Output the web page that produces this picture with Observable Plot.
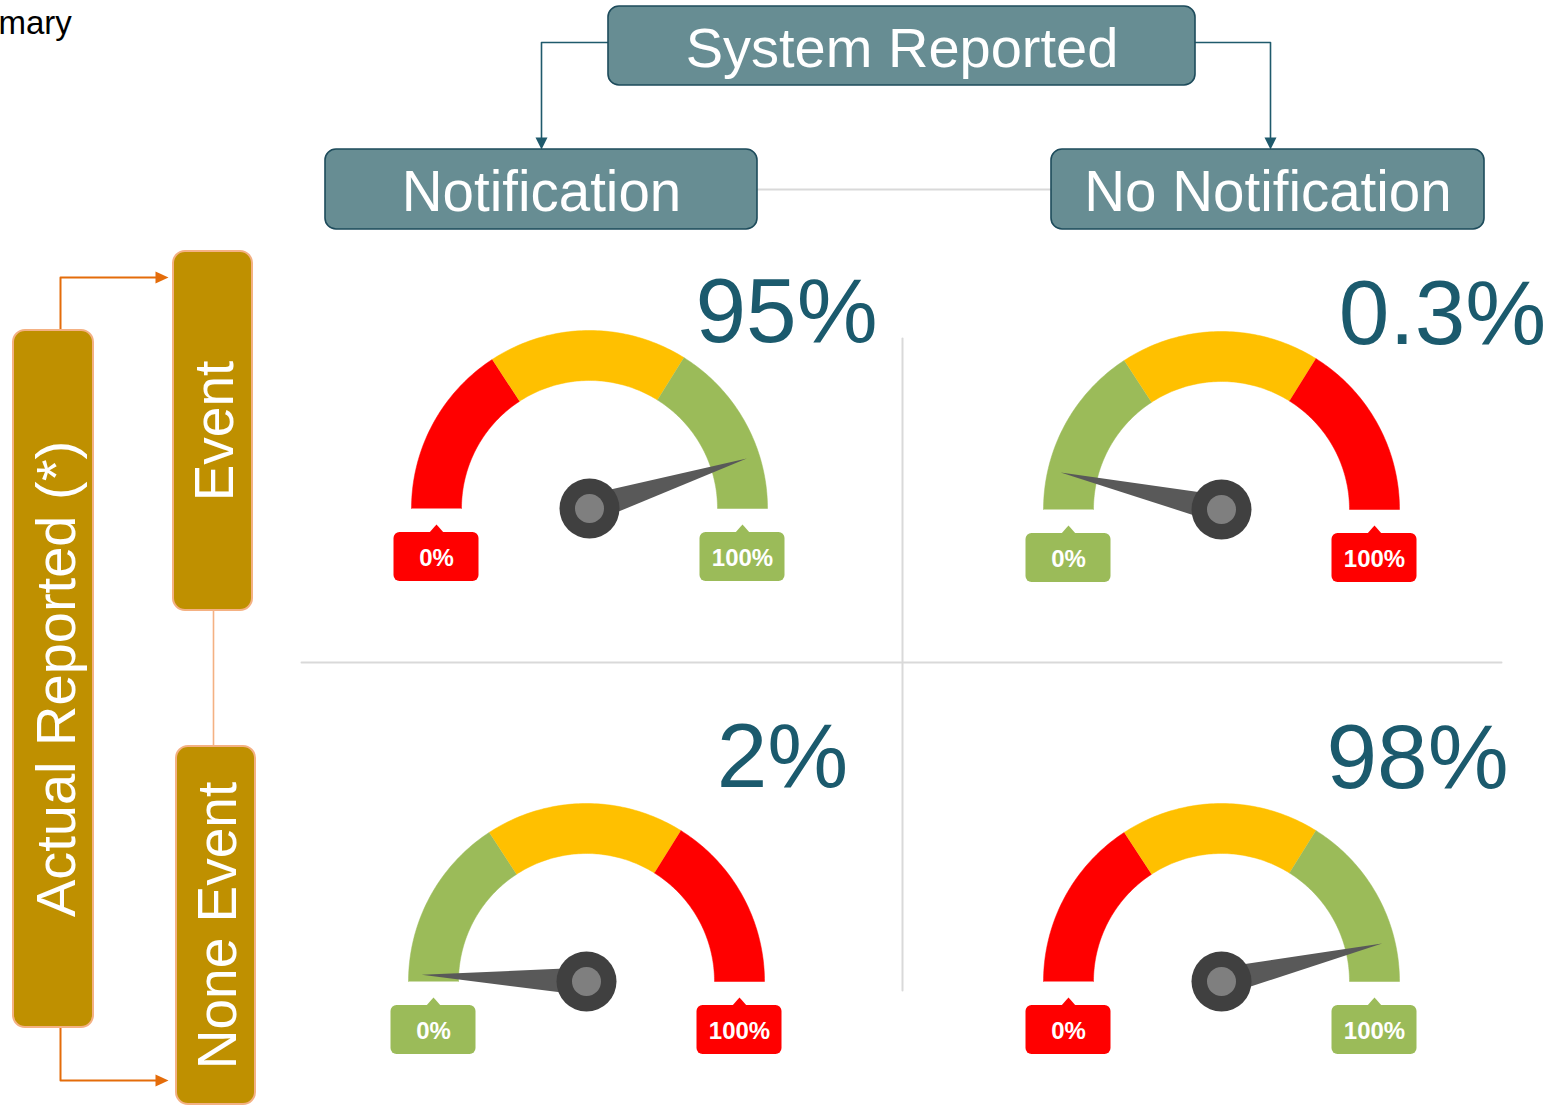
<!DOCTYPE html>
<html>
<head>
<meta charset="utf-8">
<script src="https://cdn.jsdelivr.net/npm/d3@7"></script>
<script src="https://cdn.jsdelivr.net/npm/@observablehq/plot@0.6"></script>
<style>
  html, body { margin: 0; padding: 0; background: #ffffff; }
  #chart { width: 1556px; height: 1106px; }
</style>
</head>
<body>
<div id="chart"></div>
<script>
// ---------------- DATA ----------------
const cornerText = ["mary"];
const headerTitle = ["System Reported"];
const systemCategories = ["Notification", "No Notification"];
const sideTitle = ["Actual Reported (*)"];
const actualCategories = ["Event", "None Event"];
// row-major: [Event×Notification, Event×No Notification, None Event×Notification, None Event×No Notification]
const rates = [95, 0.3, 2, 98];
const needleReadings = [90.2, 7.2, 1.3, 92.6];   // where each needle points on its 0–100 dial
const highIsGood = [true, false, false, true];
const bandBreaks = [0, 31.6, 67.8, 100];
const scaleLabels = ["0%", "100%"];

// ---------------- LAYOUT / STYLE ----------------
const W = 1556, H = 1106;
const gaugeX = [589, 1221, 586, 1221], gaugeY = [508, 509, 981, 981];
const pctX = [786, 1442, 782, 1417], pctY = [341, 343, 786, 787];
const R_OUT = 178, R_IN = 128;
const RED = "#FF0000", YEL = "#FFC000", GRN = "#9BBB59";
const TEAL_BOX = "#678D93", TEAL_DARK = "#1D4B5B", TEAL_LINE = "#1F5A6C";
const GOLD = "#BF9000", GOLD_EDGE = "#F4B183", ORANGE = "#E46C0A", GRID = "#D9D9D9", NUM = "#1B5A6D";
const FONT = "Liberation Sans, Arial, Helvetica, sans-serif";

const angle = d3.scaleLinear().domain([0, 100]).range([Math.PI, 0]);

const cells = rates.map((v, i) => ({
  i, value: v, needle: needleReadings[i], good: highIsGood[i],
  cx: gaugeX[i], cy: gaugeY[i], px: pctX[i], py: pctY[i],
  colors: highIsGood[i] ? [RED, YEL, GRN] : [GRN, YEL, RED]
}));

// gauge band polygons
const bandPts = [];
cells.forEach(c => {
  for (let b = 0; b < 3; b++) {
    const a0 = angle(bandBreaks[b]), a1 = angle(bandBreaks[b + 1]);
    const key = `${c.i}-${b}`, N = 64;
    for (let k = 0; k <= N; k++) {
      const a = a0 + (a1 - a0) * k / N;
      bandPts.push({key, color: c.colors[b], x: c.cx + R_OUT * Math.cos(a), y: c.cy - R_OUT * Math.sin(a)});
    }
    for (let k = N; k >= 0; k--) {
      const a = a0 + (a1 - a0) * k / N;
      bandPts.push({key, color: c.colors[b], x: c.cx + R_IN * Math.cos(a), y: c.cy - R_IN * Math.sin(a)});
    }
  }
});

// needles
const needlePts = [];
cells.forEach(c => {
  const a = angle(c.needle);
  const ux = Math.cos(a), uy = -Math.sin(a);
  const nx = -uy, ny = ux;
  const L = 165, hw = 14;
  needlePts.push({key: c.i, x: c.cx + nx * hw, y: c.cy + ny * hw});
  needlePts.push({key: c.i, x: c.cx + ux * L, y: c.cy + uy * L});
  needlePts.push({key: c.i, x: c.cx - nx * hw, y: c.cy - ny * hw});
});

// scale label boxes (0% / 100%)
const labelBoxes = [];
const pointerPts = [];
cells.forEach(c => {
  [0, 1].forEach(s => {
    const bx = c.cx + (s === 0 ? -1 : 1) * (R_OUT + R_IN) / 2;
    const color = s === 0 ? c.colors[0] : c.colors[2];
    labelBoxes.push({x1: bx - 42.5, x2: bx + 42.5, y1: c.cy + 24, y2: c.cy + 73, bx, by: c.cy + 57, color, text: scaleLabels[s]});
    const key = `${c.i}-${s}`;
    pointerPts.push({key, color, x: bx - 8, y: c.cy + 25});
    pointerPts.push({key, color, x: bx, y: c.cy + 16});
    pointerPts.push({key, color, x: bx + 8, y: c.cy + 25});
  });
});

// boxes
const tealBoxes = [
  {x1: 608, x2: 1195, y1: 6, y2: 85},
  {x1: 325, x2: 757, y1: 149, y2: 229},
  {x1: 1051, x2: 1484, y1: 149, y2: 229}
];
const goldBoxes = [
  {x1: 13, x2: 93, y1: 330, y2: 1027},
  {x1: 173, x2: 252, y1: 251, y2: 610},
  {x1: 176, x2: 255, y1: 746, y2: 1104}
];

const poly = (key, pts) => pts.map(([x, y]) => ({key, x, y}));
const gridLines = [...poly("v", [[902, 338], [902, 990]]), ...poly("h", [[301, 662], [1501, 662]])];
const greyConn = poly("g", [[757, 189], [1051, 189]]);
const tealConn = [...poly("l", [[608, 42], [541, 42], [541, 139]]), ...poly("r", [[1195, 42], [1270, 42], [1270, 139]])];
const tealHeads = [...poly("l", [[535, 137], [541, 149], [547, 137]]), ...poly("r", [[1264, 137], [1270, 149], [1276, 137]])];
const orangeConn = [...poly("t", [[60, 330], [60, 277], [157, 277]]), ...poly("b", [[60, 1027], [60, 1080], [157, 1080]])];
const orangeHeads = [...poly("t", [[155, 271], [168, 277], [155, 283]]), ...poly("b", [[155, 1074], [168, 1080], [155, 1086]])];
const peachConn = poly("p", [[213, 610], [213, 746]]);

const chart = Plot.plot({
  width: W, height: H,
  marginTop: 0, marginRight: 0, marginBottom: 0, marginLeft: 0,
  x: {domain: [0, W], range: [0, W], axis: null},
  y: {domain: [0, H], range: [0, H], axis: null},
  color: {type: "identity"},
  style: {fontFamily: FONT, background: "#ffffff", overflow: "visible"},
  marks: [
    // grid
    Plot.line(gridLines, {x: "x", y: "y", z: "key", stroke: GRID, strokeWidth: 2}),
    Plot.line(greyConn, {x: "x", y: "y", z: "key", stroke: GRID, strokeWidth: 2}),
    // connectors
    Plot.line(tealConn, {x: "x", y: "y", z: "key", stroke: TEAL_LINE, strokeWidth: 1.6, curve: "linear"}),
    Plot.line(tealHeads, {x: "x", y: "y", z: "key", fill: TEAL_LINE, stroke: "none"}),
    Plot.line(orangeConn, {x: "x", y: "y", z: "key", stroke: ORANGE, strokeWidth: 2, curve: "linear"}),
    Plot.line(orangeHeads, {x: "x", y: "y", z: "key", fill: ORANGE, stroke: "none"}),
    Plot.line(peachConn, {x: "x", y: "y", z: "key", stroke: GOLD_EDGE, strokeWidth: 1.6}),
    // header boxes
    Plot.rect(tealBoxes, {x1: "x1", x2: "x2", y1: "y1", y2: "y2", fill: TEAL_BOX, stroke: TEAL_DARK, strokeWidth: 1.6, rx: 11}),
    Plot.rect(goldBoxes, {x1: "x1", x2: "x2", y1: "y1", y2: "y2", fill: GOLD, stroke: GOLD_EDGE, strokeWidth: 2, rx: 12}),
    Plot.text(headerTitle, {x: 901.5, y: 66, text: d => d, fill: "white", fontSize: 56, lineAnchor: "bottom", textAnchor: "middle"}),
    Plot.text(systemCategories, {x: (d, i) => [541, 1267.5][i], y: 210, text: d => d, fill: "white", fontSize: 56.5, lineAnchor: "bottom", textAnchor: "middle"}),
    Plot.text(sideTitle, {x: 57, y: 678.5, text: d => d, fill: "white", fontSize: 56, rotate: -90, textAnchor: "middle", lineAnchor: "middle"}),
    Plot.text(actualCategories, {x: (d, i) => [214.5, 217.5][i], y: (d, i) => [430.5, 925][i], text: d => d, fill: "white", fontSize: 55, rotate: -90, textAnchor: "middle", lineAnchor: "middle"}),
    // gauges
    Plot.line(bandPts, {x: "x", y: "y", z: "key", fill: "color", stroke: "color", strokeWidth: 0.5, curve: "linear"}),
    Plot.line(needlePts, {x: "x", y: "y", z: "key", fill: "#595959", stroke: "none", curve: "linear"}),
    Plot.dot(cells, {x: "cx", y: "cy", r: 30, fill: "#404040", stroke: "none"}),
    Plot.dot(cells, {x: "cx", y: "cy", r: 14.5, fill: "#7F7F7F", stroke: "none"}),
    Plot.line(pointerPts, {x: "x", y: "y", z: "key", fill: "color", stroke: "none", curve: "linear"}),
    Plot.rect(labelBoxes, {x1: "x1", x2: "x2", y1: "y1", y2: "y2", fill: "color", rx: 6}),
    Plot.text(labelBoxes, {x: "bx", y: "by", text: "text", fill: "white", fontSize: 24, fontWeight: "bold", lineAnchor: "bottom", textAnchor: "middle"}),
    // big percentages
    Plot.text(cells, {x: "px", y: "py", text: d => d.value + "%", fill: NUM, fontSize: 91, lineAnchor: "bottom", textAnchor: "middle"}),
    // clipped corner title
    Plot.text(cornerText, {x: -2, y: 33, text: d => d, fill: "#000000", fontSize: 33, lineAnchor: "bottom", textAnchor: "start"})
  ]
});
document.getElementById("chart").appendChild(chart);
</script>
</body>
</html>
